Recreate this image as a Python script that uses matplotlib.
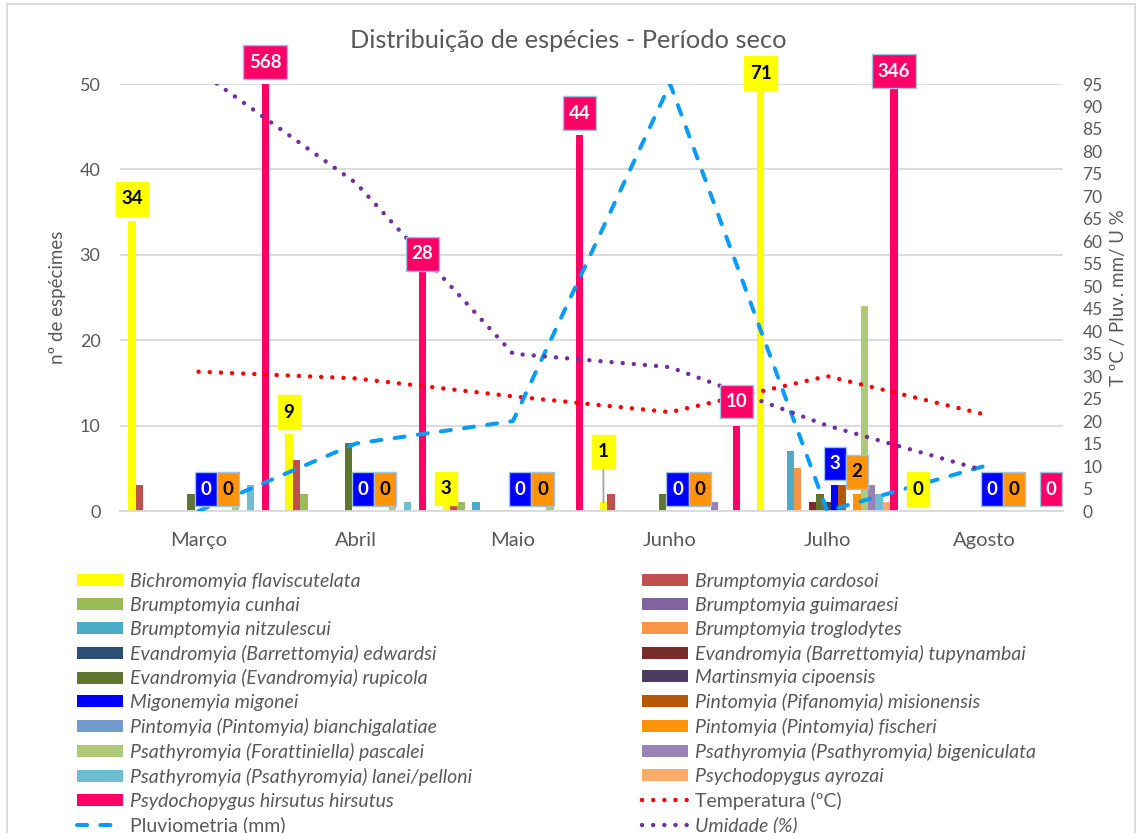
import matplotlib.pyplot as plt
from matplotlib.patches import Rectangle, Patch
from matplotlib.path import Path
import numpy as np

plt.rcParams['font.family'] = ['Lato', 'DejaVu Sans']

months = ['Março', 'Abril', 'Maio', 'Junho', 'Julho', 'Agosto']

species = ['Bichromomyia flaviscutelata', 'Brumptomyia cardosoi', 'Brumptomyia cunhai',
           'Brumptomyia guimaraesi', 'Brumptomyia nitzulescui', 'Brumptomyia troglodytes',
           'Evandromyia (Barrettomyia) edwardsi', 'Evandromyia (Barrettomyia) tupynambai',
           'Evandromyia (Evandromyia) rupicola', 'Martinsmyia cipoensis', 'Migonemyia migonei',
           'Pintomyia (Pifanomyia) misionensis', 'Pintomyia (Pintomyia) bianchigalatiae',
           'Pintomyia (Pintomyia) fischeri', 'Psathyromyia (Forattiniella) pascalei',
           'Psathyromyia (Psathyromyia) bigeniculata', 'Psathyromyia (Psathyromyia) lanei/pelloni',
           'Psychodopygus ayrozai', 'Psydochopygus hirsutus hirsutus']

# counts per month (Março .. Agosto)
flaviscutelata = [34, 9, 3, 1, 71, 0]
cardosoi = [3, 6, 1, 2, 0, 0]
cunhai = [0, 2, 1, 0, 0, 0]
guimaraesi = [0, 0, 0, 0, 0, 0]
nitzulescui = [0, 0, 1, 0, 7, 0]
troglodytes = [0, 0, 0, 0, 5, 0]
edwardsi = [0, 0, 0, 0, 0, 0]
tupynambai = [0, 0, 0, 0, 1, 0]
rupicola = [2, 8, 0, 2, 2, 0]
cipoensis = [0, 0, 0, 0, 1, 0]
migonei = [0, 0, 0, 0, 3, 0]
misionensis = [0, 0, 0, 0, 3, 0]
bianchigalatiae = [0, 0, 0, 0, 0, 0]
fischeri = [0, 0, 0, 0, 2, 0]
pascalei = [1, 1, 1, 0, 24, 0]
bigeniculata = [0, 0, 0, 1, 3, 0]
lanei_pelloni = [3, 1, 0, 0, 2, 0]
ayrozai = [0, 0, 0, 0, 1, 0]
hirsutus = [568, 28, 44, 10, 346, 0]

temperatura = [31, 29.5, 25.5, 22, 30, 21.5]
pluviometria = [0, 15, 20, 95, 0, 10]
umidade = [98, 73, 35, 32, 19, 9]

counts = [flaviscutelata, cardosoi, cunhai, guimaraesi, nitzulescui, troglodytes,
          edwardsi, tupynambai, rupicola, cipoensis, migonei, misionensis,
          bianchigalatiae, fischeri, pascalei, bigeniculata, lanei_pelloni,
          ayrozai, hirsutus]

colors = ['#FFFF00', '#C0504D', '#9BBB59', '#8064A2', '#4BACC6', '#F79646',
          '#2C4D75', '#772C2A', '#5F7530', '#4D3B62', '#0000FF', '#B65708',
          '#729ACA', '#FF9408', '#AFC97A', '#9983B5', '#6FBDD1', '#F9AB6B',
          '#FF0066']

grey = '#595959'
W, H = 1137, 833


def excel_box(x0, y0, width, height, mutation_size):
    # label box: fixed height around the text centre, small side padding
    cy = y0 + height / 2
    hh = 0.9 * mutation_size
    px = 0.3 * mutation_size
    return Path([(x0 - px, cy - hh), (x0 + width + px, cy - hh),
                 (x0 + width + px, cy + hh), (x0 - px, cy + hh), (x0 - px, cy - hh)],
                closed=True)


fig = plt.figure(figsize=(W / 100, H / 100), dpi=100)
ax = fig.add_axes([120 / W, 1 - 511 / H, (1063 - 120) / W, (511 - 84) / H])

x = np.arange(len(months))
bw = 0.0471
handles = []
for i in range(len(species)):
    ax.bar(x + (i - 9) * bw, counts[i], width=bw, color=colors[i], zorder=2)
    handles.append(Patch(facecolor=colors[i]))

ax.set_xlim(-0.5, 5.5)
ax.set_ylim(0, 50)
ax.set_yticks(np.arange(0, 51, 10))
ax.set_xticks(x)
ax.set_xticklabels(months)
ax.grid(axis='y', color='#D9D9D9', lw=1.3, zorder=0)
ax.set_axisbelow(True)
for s in ['top', 'left', 'right']:
    ax.spines[s].set_visible(False)
ax.spines['bottom'].set_color('#D9D9D9')
ax.spines['bottom'].set_linewidth(1.3)
ax.tick_params(length=0, labelsize=13, labelcolor=grey)
ax.tick_params(axis='y', pad=14)
ax.tick_params(axis='x', pad=15, labelsize=14.5)
ax.set_ylabel('nº de espécimes', fontsize=13.5, color=grey, labelpad=10)

ax2 = ax.twinx()
ax2.set_ylim(0, 95)
ax2.set_yticks(np.arange(0, 96, 5))
for s in ax2.spines.values():
    s.set_visible(False)
ax2.tick_params(length=0, labelsize=12.5, labelcolor=grey, pad=14)
ax2.set_ylabel('T ºC / Pluv. mm/ U %', fontsize=13.5, color=grey, labelpad=5)

l_temp, = ax2.plot(x, temperatura, color='#FF0000', lw=3.2, ls=(0, (0.01, 2.5)),
                   dash_capstyle='round')
l_pluv, = ax2.plot(x, pluviometria, color='#0A9BF5', lw=2.9, ls=(0, (2.5, 3.3)),
                   dash_capstyle='round')
l_umid, = ax2.plot(x, umidade, color='#7030A0', lw=3.2, ls=(0, (0.01, 2.5)),
                   dash_capstyle='round')

# data labels for the four labelled series
label_series = {0: ('#FFFF00', 'black', '#FFFF00'),
                10: ('#0000FF', 'white', '#9DC3E6'),
                13: ('#FF9408', 'black', '#9DC3E6'),
                18: ('#FF0066', 'white', '#9DC3E6')}
offsets = {(0, 2): -3, (0, 3): 51, (0, 4): 11, (18, 4): 13, (18, 1): 18, (18, 3): 24}
for i, (fc, tc, ec) in label_series.items():
    for m in range(len(months)):
        v = counts[i][m]
        off = offsets.get((i, m), 22)
        xp = x[m] + (i - 9) * bw
        props = None
        if (i, m) == (0, 3):
            props = dict(arrowstyle='-', color='#A6A6A6', lw=1.3, shrinkA=0, shrinkB=0)
        ax2.annotate(str(v), xy=(xp, min(v, 50)), xycoords=ax.transData,
                     xytext=(0, off), textcoords='offset pixels',
                     ha='center', va='center', fontsize=13.5, fontweight='bold', color=tc,
                     bbox=dict(boxstyle=excel_box, fc=fc, ec=ec, lw=1),
                     arrowprops=props, annotation_clip=False, zorder=5)

fig.text(0.5, 1 - 40 / H, 'Distribuição de espécies - Período seco', ha='center',
         va='center', fontsize=18.3, color=grey)

# legend, two columns filled row by row
all_h = handles + [l_temp, l_pluv, l_umid]
all_l = species + ['Temperatura (ºC)', 'Pluviometria (mm)', 'Umidade (%)']
italic = [True] * len(species) + [False, False, True]
for col, xpos in [(0, 77), (1, 642)]:
    hh = all_h[col::2]
    ll = all_l[col::2]
    it = italic[col::2]
    leg = fig.legend(hh, ll, loc='upper left', bbox_to_anchor=(xpos / W, 1 - 573 / H),
                     frameon=False, fontsize=14, handlelength=2.37, handleheight=0.57,
                     handletextpad=0.36, labelspacing=0.35, borderpad=0, borderaxespad=0)
    for t, ii in zip(leg.get_texts(), it):
        t.set_color(grey)
        if ii:
            t.set_fontstyle('italic')

fig.add_artist(Rectangle((7 / W, -0.01), (1135 - 7) / W, 1.0 - 4 / H + 0.01,
                         transform=fig.transFigure, fill=False, ec='#D9D9D9', lw=1.3))

fig.savefig('out.png', dpi=100)
